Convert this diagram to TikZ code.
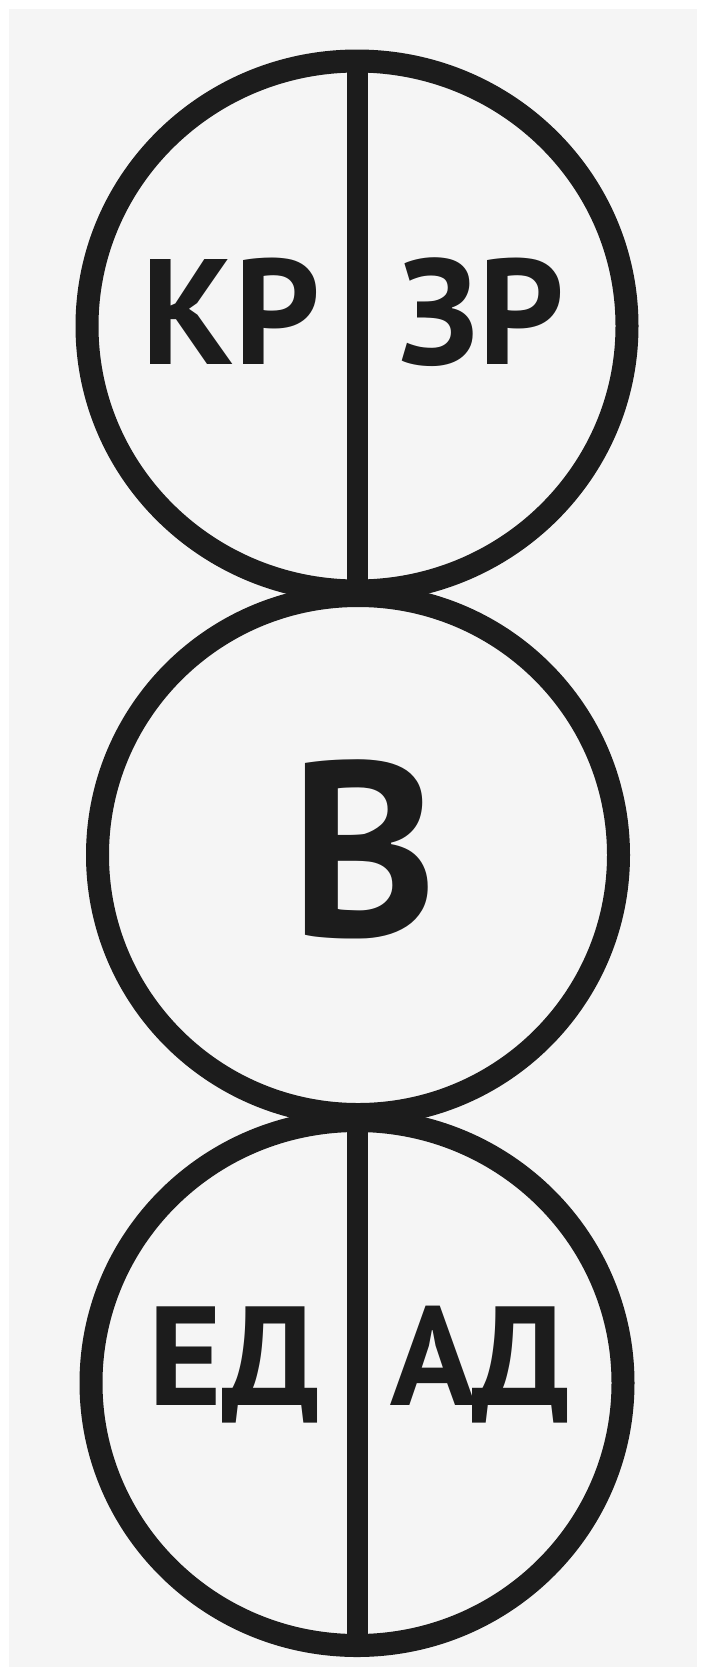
\documentclass[tikz,border=0pt]{standalone}
\usepackage{fontspec}
\setmainfont{PT Sans}
\usetikzlibrary{shapes.geometric}
\definecolor{ink}{HTML}{1C1C1C}
\definecolor{paper}{HTML}{F5F5F5}
\tikzset{
  ring/.style={draw=ink, line width=23pt, ellipse, inner sep=0pt, outer sep=0pt},
  divider/.style={draw=ink, line width=21pt},
  lbl/.style={text=ink, inner sep=0pt, anchor=base, font=\bfseries\fontsize{150}{150}\selectfont},
}
\begin{document}
\begin{tikzpicture}[x=1pt, y=-1pt]
\useasboundingbox (0,0) rectangle (706,1676);
\fill[white] (0,0) rectangle (706,1676);
\fill[paper] (9,9) rectangle (697,1667);
\node[ring, minimum width=540pt, minimum height=530pt] (top) at (357,326) {};
\node[ring, minimum width=521pt, minimum height=519pt] (mid) at (358,855) {};
\node[ring, minimum width=532pt, minimum height=525pt] (bot) at (357,1383) {};
\draw[divider] (top.north) -- (top.south);
\draw[divider] (bot.north) -- (bot.south);
\node[lbl] (kr) at (231,364) {КР};
\node[lbl] (zr) at (482,364) {ЗР};
\node[lbl, font=\bfseries\fontsize{249}{249}\selectfont] (v) at (364,936) {В};
\node[lbl, font=\bfseries\fontsize{141}{141}\selectfont] (ed) at (234,1405) {ЕД};
\node[lbl, font=\bfseries\fontsize{141}{141}\selectfont] (ad) at (480,1405) {АД};
\end{tikzpicture}
\end{document}
